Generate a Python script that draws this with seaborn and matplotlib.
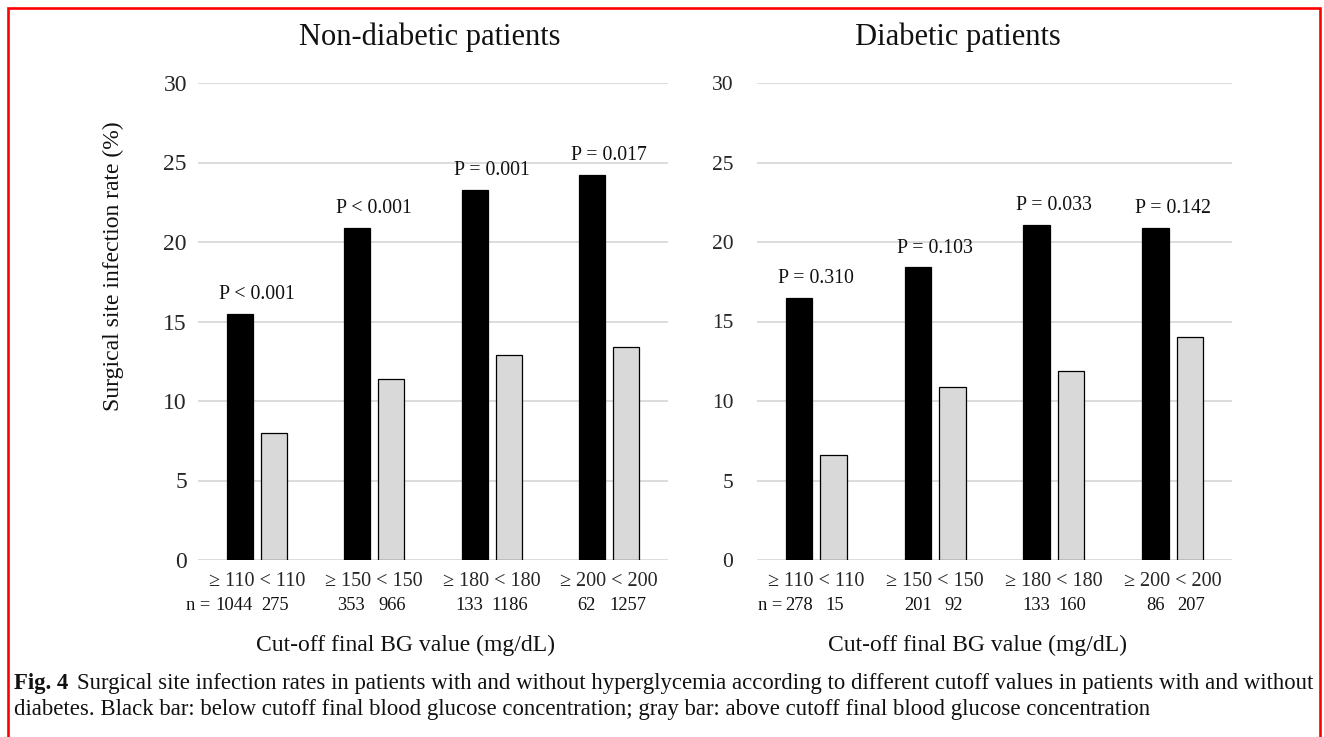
import matplotlib
matplotlib.use("Agg")
import matplotlib.pyplot as plt
import matplotlib.transforms as mtransforms
from matplotlib.patches import Rectangle
import pandas as pd
import seaborn as sns

# ---- data -------------------------------------------------------------
cutoffs = ["110", "150", "180", "200"]
sides = ["≥", "<"]

nondiab_high = [15.5, 20.9, 23.3, 24.2]
nondiab_low = [8.0, 11.4, 12.9, 13.4]
nondiab_n_high = [1044, 353, 133, 62]
nondiab_n_low = [275, 966, 1186, 1257]
nondiab_p = ["P < 0.001", "P < 0.001", "P = 0.001", "P = 0.017"]

diab_high = [16.5, 18.4, 21.1, 20.9]
diab_low = [6.6, 10.9, 11.9, 14.0]
diab_n_high = [278, 201, 133, 86]
diab_n_low = [15, 92, 160, 207]
diab_p = ["P = 0.310", "P = 0.103", "P = 0.033", "P = 0.142"]

panel_titles = ["Non-diabetic patients", "Diabetic patients"]
y_label = "Surgical site infection rate (%)"
x_label = "Cut-off final BG value (mg/dL)"
caption_head = "Fig. 4"
caption_line1 = ("Surgical site infection rates in patients with and without hyperglycemia "
                 "according to different cutoff values in patients with and without")
caption_line2 = ("diabetes. Black bar: below cutoff final blood glucose concentration; "
                 "gray bar: above cutoff final blood glucose concentration")

# ---- style ------------------------------------------------------------
sns.set_theme(style="white")
plt.rcParams["font.family"] = ["Liberation Serif", "DejaVu Serif"]
plt.rcParams["text.color"] = "#111111"

W, H = 1324, 737
fig = plt.figure(figsize=(W / 100, H / 100), dpi=100)


def fx(px):
    return px / W


def fy(py):
    return 1 - py / H


palette = {"≥": "#000000", "<": "#d9d9d9"}
BAR_W = 0.58
GAP = 0.235
OFF = BAR_W / 4  # centre offset of each bar within a category


def make_frame(high, low):
    rows = []
    for c, h, l in zip(cutoffs, high, low):
        rows.append({"cutoff": c, "side": "≥", "rate": h})
        rows.append({"cutoff": c, "side": "<", "rate": l})
    return pd.DataFrame(rows)


panels = [
    dict(rect=(198, 83, 668, 560), high=nondiab_high, low=nondiab_low,
         n_high=nondiab_n_high, n_low=nondiab_n_low, p=nondiab_p,
         ytick_size=17, ytick_pad=8, title_x=430, xlabel_x=405, n_x=210,
         high_shift=0.05),
    dict(rect=(757, 83, 1232, 560), high=diab_high, low=diab_low,
         n_high=diab_n_high, n_low=diab_n_low, p=diab_p,
         ytick_size=15.5, ytick_pad=17, title_x=958, xlabel_x=978, n_x=782,
         high_shift=0.0),
]

for i, pnl in enumerate(panels):
    x0, y0, x1, y1 = pnl["rect"]
    ax = fig.add_axes([fx(x0), fy(y1), fx(x1) - fx(x0), fy(y0) - fy(y1)])
    df = make_frame(pnl["high"], pnl["low"])
    sns.barplot(data=df, x="cutoff", y="rate", hue="side", order=cutoffs,
                hue_order=sides, palette=palette, width=BAR_W, gap=GAP,
                edgecolor="black", linewidth=0.9, legend=False, ax=ax,
                zorder=3)
    ax.set_ylim(0, 30)
    ax.set_xlim(-0.5, len(cutoffs) - 0.5)
    ax.set_yticks([0, 5, 10, 15, 20, 25, 30])
    ax.yaxis.grid(True, color="#d9d9d9", linewidth=1.3, zorder=0)
    ax.set_axisbelow(True)
    for s in ax.spines.values():
        s.set_visible(False)
    ax.tick_params(axis="y", length=0, pad=pnl["ytick_pad"],
                   labelsize=pnl["ytick_size"])
    ax.set_xticks(range(len(cutoffs)))
    ax.set_xticklabels([f"≥ {c} < {c}" for c in cutoffs], fontsize=14.5)
    ax.tick_params(axis="x", length=0, pad=9)
    ax.set_xlabel("")
    ax.set_ylabel("")

    # p-values above each pair
    for k, (h, txt) in enumerate(zip(pnl["high"], pnl["p"])):
        ax.annotate(txt, xy=(k, h), xytext=(0, 7), textcoords="offset points",
                    ha="center", va="bottom", fontsize=14.3)

    # group sizes below the tick labels
    trans = mtransforms.blended_transform_factory(ax.transData, fig.transFigure)
    ny = fy(606)
    for k, (nh, nl) in enumerate(zip(pnl["n_high"], pnl["n_low"])):
        ax.text(k - OFF - pnl["high_shift"], ny, str(nh), transform=trans,
                ha="center", va="center", fontsize=13.3)
        ax.text(k + OFF + 0.01, ny, str(nl), transform=trans, ha="center",
                va="center", fontsize=13.3)
    fig.text(fx(pnl["n_x"]), ny, "n =", ha="right", va="center",
             fontsize=13.3)

    fig.text(fx(pnl["title_x"]), fy(37), panel_titles[i], ha="center",
             va="center", fontsize=22)
    fig.text(fx(pnl["xlabel_x"]), fy(645), x_label, ha="center",
             va="center", fontsize=17)

fig.text(fx(113), fy(266), y_label, rotation=90, ha="center", va="center",
         fontsize=17)

# ---- caption ----------------------------------------------------------
cap_size = 14.2
cap_gap = 9
renderer = fig.canvas.get_renderer()
head = fig.text(fx(14), fy(684), caption_head, ha="left", va="center",
                fontsize=cap_size, fontweight="bold")
rest = fig.text(fx(100), fy(684), caption_line1, ha="left", va="center",
                fontsize=cap_size)
hb = head.get_window_extent(renderer)
rb = rest.get_window_extent(renderer)
scale = (1313 - 14 - cap_gap) / (hb.width + rb.width)
head.set_fontsize(cap_size * scale)
rest.set_fontsize(cap_size * scale)
hb = head.get_window_extent(renderer)
rest.set_x(hb.x1 / W + fx(cap_gap))
fig.text(fx(14), fy(710), caption_line2, ha="left", va="center",
         fontsize=cap_size * scale)

# ---- frame ------------------------------------------------------------
frame = Rectangle((fx(8), -0.05), fx(1320) - fx(8), fy(8) + 0.05,
                  transform=fig.transFigure, fill=False, edgecolor="#ff0000",
                  linewidth=1.9, clip_on=False)
fig.patches.append(frame)

fig.savefig("out.png", dpi=100)
